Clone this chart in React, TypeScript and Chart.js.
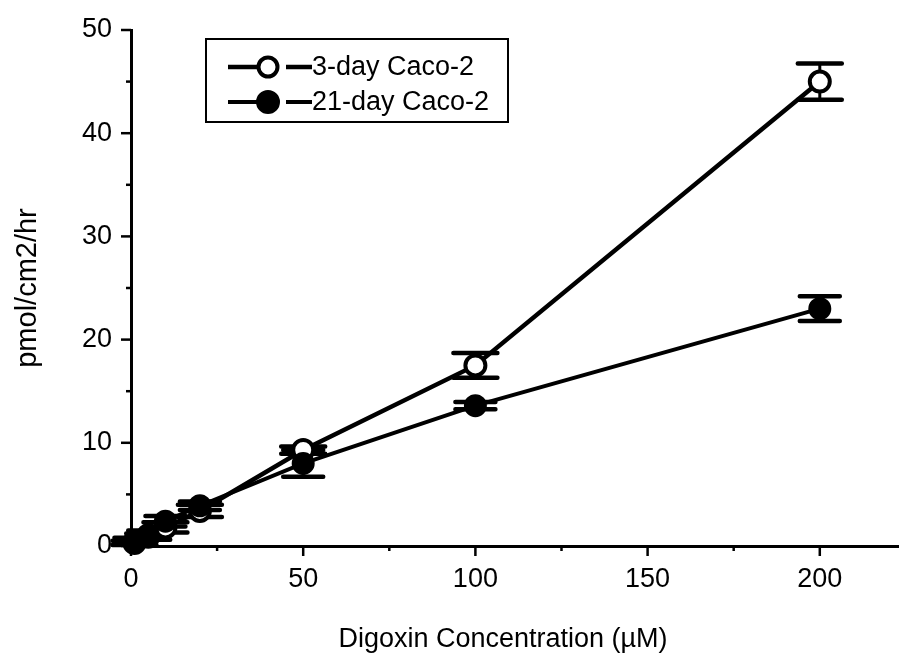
import React, { useEffect, useRef } from 'react';
import { Chart, registerables } from 'chart.js';

Chart.register(...registerables);

// ---- data ----
const concentrations = [1, 5, 10, 20, 50, 100, 200];
const day3Values = [0.3, 0.9, 1.8, 3.4, 9.3, 17.5, 45.0];
const day3Errors = [0.2, 0.3, 0.5, 0.6, 0.35, 1.2, 1.75];
const day21Values = [0.5, 1.1, 2.4, 3.9, 8.0, 13.6, 23.0];
const day21Errors = [0.3, 0.4, 0.5, 0.4, 1.3, 0.35, 1.2];
const seriesLabels = ['3-day Caco-2', '21-day Caco-2'];
const xMajorTicks = [0, 50, 100, 150, 200];
const yMajorTicks = [0, 10, 20, 30, 40, 50];
const xTitle = 'Digoxin Concentration (\u00B5M)';
const yTitle = 'pmol/cm2/hr';

const FONT = '"Liberation Sans", Arial, Helvetica, sans-serif';
const INK = '#000000';

const errorBarPlugin = {
  id: 'errorBars',
  beforeDatasetsDraw(chart: any) {
    const ctx = chart.ctx;
    const xs = chart.scales.x;
    const ys = chart.scales.y;
    ctx.save();
    chart.data.datasets.forEach((ds: any) => {
      const errs: number[] = ds.errors || [];
      ds.data.forEach((p: any, i: number) => {
        const e = errs[i];
        if (e == null) return;
        const px = xs.getPixelForValue(p.x);
        const top = ys.getPixelForValue(p.y + e);
        const bot = ys.getPixelForValue(p.y - e);
        const hw = ds.capHalfWidth || 22;
        ctx.strokeStyle = INK;
        ctx.lineCap = 'round';
        ctx.lineWidth = 3;
        ctx.beginPath();
        ctx.moveTo(px, top);
        ctx.lineTo(px, bot);
        ctx.stroke();
        ctx.lineWidth = 4.5;
        ctx.beginPath();
        ctx.moveTo(px - hw, top);
        ctx.lineTo(px + hw, top);
        ctx.moveTo(px - hw, bot);
        ctx.lineTo(px + hw, bot);
        ctx.stroke();
      });
    });
    ctx.restore();
  },
};

const tickMarksPlugin = {
  id: 'tickMarks',
  afterDraw(chart: any) {
    const ctx = chart.ctx;
    const xs = chart.scales.x;
    const ys = chart.scales.y;
    const area = chart.chartArea;
    ctx.save();
    ctx.strokeStyle = INK;
    ctx.lineWidth = 2.5;
    ctx.lineCap = 'butt';
    xs.ticks.forEach((t: any) => {
      const px = xs.getPixelForValue(t.value);
      const len = xMajorTicks.includes(t.value) ? 10 : 5;
      ctx.beginPath();
      ctx.moveTo(px, area.bottom);
      ctx.lineTo(px, area.bottom + len);
      ctx.stroke();
    });
    ys.ticks.forEach((t: any) => {
      const py = ys.getPixelForValue(t.value);
      const len = yMajorTicks.includes(t.value) ? 10 : 5;
      ctx.beginPath();
      ctx.moveTo(area.left, py);
      ctx.lineTo(area.left - len, py);
      ctx.stroke();
    });
    // x-axis title (slightly left of the axis centre, as in the reference)
    ctx.fillStyle = INK;
    ctx.font = `27px ${FONT}`;
    ctx.textAlign = 'center';
    ctx.textBaseline = 'middle';
    ctx.fillText(xTitle, 503, 640);
    ctx.restore();
  },
};

const boxLegendPlugin = {
  id: 'boxLegend',
  afterDraw(chart: any) {
    const ctx = chart.ctx;
    const box = { x: 206, y: 39, w: 302, h: 83 };
    const rows = [67, 102];
    ctx.save();
    ctx.strokeStyle = INK;
    ctx.lineWidth = 2;
    ctx.strokeRect(box.x, box.y, box.w, box.h);
    chart.data.datasets.forEach((ds: any, i: number) => {
      const y = rows[i];
      ctx.strokeStyle = INK;
      ctx.lineWidth = ds.borderWidth;
      ctx.lineCap = 'butt';
      ctx.beginPath();
      ctx.moveTo(228, y);
      ctx.lineTo(257, y);
      ctx.moveTo(286, y);
      ctx.lineTo(312, y);
      ctx.stroke();
      ctx.beginPath();
      ctx.arc(268, y, ds.legendRadius, 0, Math.PI * 2);
      ctx.fillStyle = ds.pointBackgroundColor;
      ctx.fill();
      ctx.lineWidth = ds.pointBorderWidth;
      ctx.stroke();
      ctx.fillStyle = INK;
      ctx.font = `27px ${FONT}`;
      ctx.textBaseline = 'middle';
      ctx.textAlign = 'left';
      ctx.fillText(ds.label, 312, y + 1);
    });
    ctx.restore();
  },
};

export default function App() {
  const canvasRef = useRef<HTMLCanvasElement | null>(null);

  useEffect(() => {
    document.body.style.margin = '0';
    const canvas = canvasRef.current;
    if (!canvas) return;

    const day3 = concentrations.map((c, i) => ({ x: c, y: day3Values[i] }));
    const day21 = concentrations.map((c, i) => ({ x: c, y: day21Values[i] }));

    const chart = new Chart(canvas, {
      type: 'line',
      data: {
        datasets: [
          {
            label: seriesLabels[0],
            data: day3,
            errors: day3Errors,
            borderColor: INK,
            borderWidth: 4.5,
            pointRadius: 10,
            pointBorderWidth: 4,
            pointBackgroundColor: '#ffffff',
            pointBorderColor: INK,
            legendRadius: 9.5,
            capHalfWidth: 22,
            tension: 0,
            order: 1,
            clip: false,
          } as any,
          {
            label: seriesLabels[1],
            data: day21,
            errors: day21Errors,
            borderColor: INK,
            borderWidth: 4,
            pointRadius: 10,
            pointBorderWidth: 3,
            pointBackgroundColor: INK,
            pointBorderColor: INK,
            legendRadius: 10.5,
            capHalfWidth: 20,
            tension: 0,
            order: 0,
            clip: false,
          } as any,
        ],
      },
      options: {
        animation: false,
        responsive: false,
        maintainAspectRatio: false,
        layout: { autoPadding: false, padding: { top: 30, right: 0, bottom: 0, left: 0 } },
        plugins: {
          legend: { display: false },
          tooltip: { enabled: false },
        },
        scales: {
          x: {
            type: 'linear',
            min: 0,
            max: 223,
            border: { display: true, color: INK, width: 3 },
            grid: {
              drawOnChartArea: false,
              drawTicks: true,
              tickLength: 10,
              color: 'rgba(0,0,0,0)',
              tickColor: 'rgba(0,0,0,0)',
            },
            ticks: {
              stepSize: 25,
              includeBounds: false,
              autoSkip: false,
              maxRotation: 0,
              padding: 7,
              color: INK,
              font: { family: FONT, size: 27 },
              callback: (v: any) => (xMajorTicks.includes(Number(v)) ? String(v) : ''),
            },
            title: { display: false },
            afterFit: (scale: any) => {
              scale.height = 111;
              scale.paddingLeft = 0;
              scale.paddingRight = 0;
            },
          },
          y: {
            type: 'linear',
            min: 0,
            max: 50,
            border: { display: true, color: INK, width: 3 },
            grid: {
              drawOnChartArea: false,
              drawTicks: true,
              tickLength: 10,
              color: 'rgba(0,0,0,0)',
              tickColor: 'rgba(0,0,0,0)',
            },
            ticks: {
              stepSize: 5,
              autoSkip: false,
              padding: 9,
              color: INK,
              font: { family: FONT, size: 27 },
              callback: (v: any) => (yMajorTicks.includes(Number(v)) ? String(v) : ''),
            },
            title: {
              display: true,
              text: yTitle,
              color: INK,
              font: { family: FONT, size: 29 },
              padding: { top: 11, bottom: 0 },
            },
            afterFit: (scale: any) => {
              scale.width = 131;
            },
          },
        },
      } as any,
      plugins: [errorBarPlugin, tickMarksPlugin, boxLegendPlugin],
    });

    return () => {
      chart.destroy();
    };
  }, []);

  return (
    <div style={{ width: 899, height: 657, background: '#ffffff' }}>
      <canvas ref={canvasRef} width={899} height={657} style={{ display: 'block' }} />
    </div>
  );
}
